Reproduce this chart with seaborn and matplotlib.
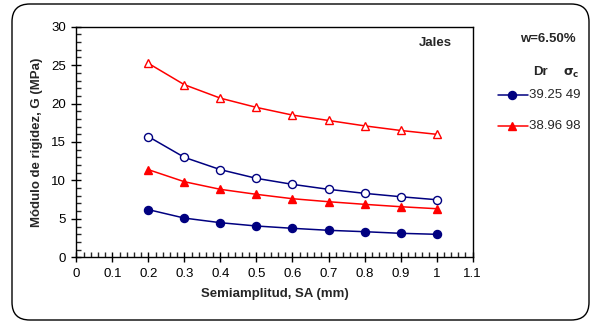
import numpy as np
import pandas as pd
import seaborn as sns
import matplotlib.pyplot as plt
from matplotlib.patches import FancyBboxPatch
from matplotlib.lines import Line2D
from matplotlib.ticker import MultipleLocator

# semiamplitud SA (mm)
sa = [0.2, 0.3, 0.4, 0.5, 0.6, 0.7, 0.8, 0.9, 1.0]

# Dr 39.25, sigma_c 49 (azul): filled and open markers
g_49_fill = [6.2, 5.1, 4.5, 4.07, 3.77, 3.51, 3.33, 3.12, 2.99]
g_49_open = [15.7, 13.0, 11.4, 10.27, 9.49, 8.84, 8.32, 7.88, 7.49]
# Dr 38.96, sigma_c 98 (rojo)
g_98_fill = [11.4, 9.83, 8.84, 8.19, 7.62, 7.23, 6.89, 6.58, 6.32]
g_98_open = [25.23, 22.45, 20.7, 19.5, 18.5, 17.8, 17.1, 16.5, 16.0]

series = {
    "49_fill": g_49_fill,
    "49_open": g_49_open,
    "98_fill": g_98_fill,
    "98_open": g_98_open,
}
df = pd.concat(
    [pd.DataFrame({"SA": sa, "G": v, "serie": k}) for k, v in series.items()],
    ignore_index=True,
)

sns.set_style("white")
plt.rcParams["font.family"] = ["Liberation Sans", "DejaVu Sans"]

navy = "#000080"
red = "#FF0000"
styles = {
    "49_fill": dict(color=navy, marker="o", mfc=navy, ms=5.8),
    "49_open": dict(color=navy, marker="o", mfc="white", ms=5.8),
    "98_fill": dict(color=red, marker="^", mfc=red, ms=6.2),
    "98_open": dict(color=red, marker="^", mfc="white", ms=6.2),
}

fig = plt.figure(figsize=(5.93, 3.24), dpi=100)
ax = fig.add_axes([0.1287, 0.2059, 0.797 - 0.1287, 0.9176 - 0.2059])

for key, st in styles.items():
    sub = df[df["serie"] == key]
    sns.lineplot(data=sub, x="SA", y="G", ax=ax, color=st["color"], lw=1.1,
                 marker=st["marker"], markersize=st["ms"],
                 markerfacecolor=st["mfc"], markeredgecolor=st["color"],
                 markeredgewidth=1.0, legend=False)

ax.set_xlim(0, 1.1)
ax.set_ylim(0, 30)
ax.xaxis.set_major_locator(MultipleLocator(0.1))
ax.xaxis.set_minor_locator(MultipleLocator(0.02))
ax.yaxis.set_major_locator(MultipleLocator(5))
ax.yaxis.set_minor_locator(MultipleLocator(1))
ax.set_xticks(np.arange(0, 1.11, 0.1))
ax.set_xticklabels(["0", "0.1", "0.2", "0.3", "0.4", "0.5", "0.6", "0.7",
                    "0.8", "0.9", "1", "1.1"])
ax.tick_params(which="major", direction="inout", length=7, width=1,
               labelsize=9.5, colors="black", pad=4)
ax.tick_params(which="minor", direction="in", length=3.5, width=1)
ax.tick_params(bottom=True, left=True, which="both")
for s in ax.spines.values():
    s.set_color("black")
    s.set_linewidth(1.0)

ax.set_xlabel("Semiamplitud, SA (mm)", fontsize=9.5, fontweight="bold", labelpad=6)
ax.set_ylabel("Módulo de rigidez, G (MPa)", fontsize=9.5, fontweight="bold", labelpad=6)

ax.text(0.947, 0.93, "Jales", transform=ax.transAxes, ha="right", va="center",
        fontsize=9.5, fontweight="bold")

# legend area drawn as figure text
fig.text(576 / 593, 1 - 39 / 324, "w=6.50%", ha="right", va="center",
         fontsize=9.5, fontweight="bold")
fig.text(540 / 593, 1 - 72 / 324, "Dr", ha="center", va="center",
         fontsize=9.5, fontweight="bold")
fig.text(571 / 593, 1 - 73 / 324, r"$\mathbf{\sigma_c}$", ha="center", va="center",
         fontsize=9, fontweight="bold")
entries = [("49_fill", "39.25 49", 95), ("98_fill", "38.96 98", 126)]
for key, label, ypx in entries:
    st = styles[key]
    yf = 1 - ypx / 324
    fig.add_artist(Line2D([498 / 593, 528 / 593], [yf, yf], color=st["color"], lw=1.1,
                          transform=fig.transFigure))
    fig.add_artist(Line2D([512 / 593], [yf], marker=st["marker"], ms=st["ms"],
                          color=st["color"], mfc=st["mfc"], mec=st["color"],
                          transform=fig.transFigure))
    fig.text(529 / 593, yf, label, ha="left", va="center", fontsize=9.5)

# rounded chart border
border = FancyBboxPatch((12 / 593, 4 / 324), 577 / 593, 316 / 324,
                        boxstyle="round,pad=0,rounding_size=0.03",
                        transform=fig.transFigure, fill=False,
                        edgecolor="black", lw=1.0, mutation_aspect=593 / 324)
fig.add_artist(border)

fig.savefig("out.png", dpi=100)
